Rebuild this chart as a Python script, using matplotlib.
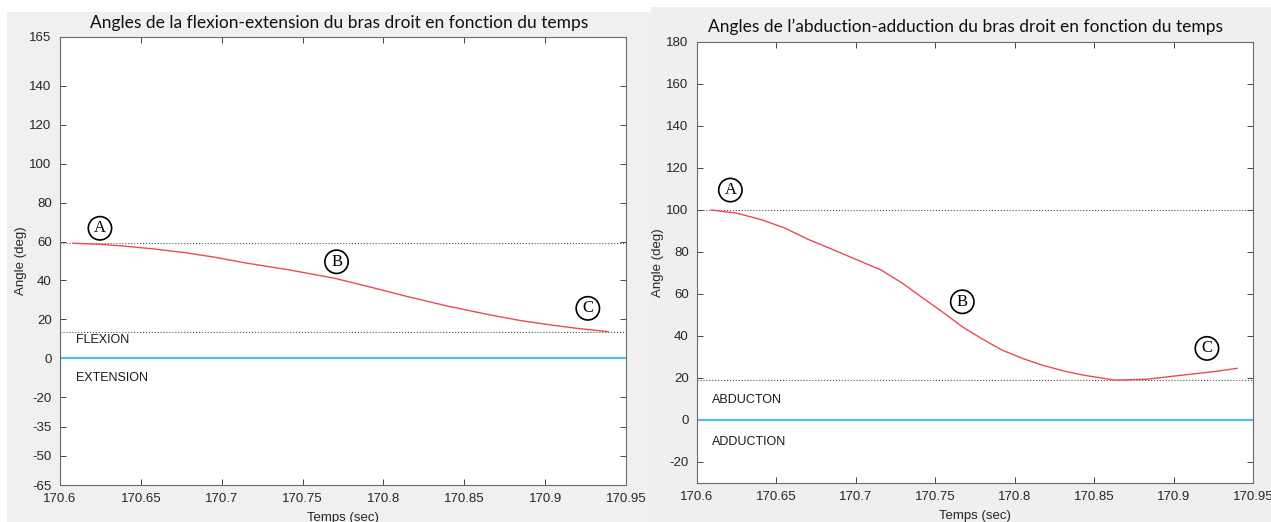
import matplotlib.pyplot as plt
from matplotlib.patches import Rectangle

# flexion-extension (left)
t_flex = [170.608, 170.624, 170.639, 170.658, 170.677, 170.696, 170.714, 170.742, 170.770,
          170.792, 170.815, 170.840, 170.866, 170.885, 170.904, 170.920, 170.939]
ang_flex = [59.1, 58.6, 57.7, 56.2, 54.3, 51.9, 49.1, 45.4, 41.1,
            36.6, 31.7, 26.8, 22.3, 19.4, 17.1, 15.4, 13.7]
yticks_flex = [-65, -50, -35, -20, 0, 20, 40, 60, 80, 100, 120, 140, 165]
marks_flex = {'A': (170.6247, 66.8), 'B': (170.771, 49.6), 'C': (170.9264, 25.7)}

# abduction-adduction (right)
t_abd = [170.609, 170.625, 170.640, 170.655, 170.670, 170.686, 170.700, 170.716, 170.730, 170.741,
         170.755, 170.767, 170.780, 170.792, 170.805, 170.817, 170.830, 170.843, 170.863,
         170.883, 170.906, 170.925, 170.940]
ang_abd = [100, 98.5, 95.5, 91.5, 86, 81, 76.5, 71.4, 64.8, 58.7,
           51.2, 44.4, 38.4, 33.3, 29.3, 26.2, 23.5, 21.4, 19.0,
           19.4, 21.4, 23.0, 24.6]
yticks_abd = [-20, 0, 20, 40, 60, 80, 100, 120, 140, 160, 180]
marks_abd = {'A': (170.621, 109.5), 'B': (170.767, 56.3), 'C': (170.921, 34.1)}

xticks = [170.6, 170.65, 170.7, 170.75, 170.8, 170.85, 170.9, 170.95]
xlabels = ['170.6', '170.65', '170.7', '170.75', '170.8', '170.85', '170.9', '170.95']

plt.rcParams['font.family'] = ['Liberation Sans', 'DejaVu Sans']
plt.rcParams['axes.unicode_minus'] = False

W, H = 1271, 522
fig = plt.figure(figsize=(W / 100, H / 100), dpi=100, facecolor='white')

# grey backgrounds of the two screenshots
fig.add_artist(Rectangle((7 / W, 0), (651 - 7) / W, (H - 12) / H, transform=fig.transFigure,
                         facecolor='#f0f0f0', edgecolor='none', zorder=-10))
fig.add_artist(Rectangle((651 / W, 0), (W - 651) / W, (H - 7) / H, transform=fig.transFigure,
                         facecolor='#efefef', edgecolor='none', zorder=-10))

tick_col = '#262626'


def setup(ax, ylim, yticks, title, title_xy, ylab_x, xlab_y):
    ax.set_xlim(170.6, 170.95)
    ax.set_ylim(*ylim)
    ax.set_xticks(xticks)
    ax.set_xticklabels(xlabels)
    ax.set_yticks(yticks)
    ax.tick_params(direction='in', length=4, width=0.6, colors=tick_col, labelsize=9.5,
                   top=True, right=True, pad=6)
    for s in ax.spines.values():
        s.set_color('#6a6a6a')
        s.set_linewidth(0.8)
    ax.set_ylabel('Angle (deg)', fontsize=9.5, color=tick_col)
    ax.yaxis.set_label_coords(ylab_x, 0.5)
    ax.yaxis.label.set_va('center')
    ax.set_xlabel('Temps (sec)', fontsize=9.5, color=tick_col)
    ax.xaxis.set_label_coords(0.5, xlab_y)
    ax.xaxis.label.set_va('center')
    fig.text(title_xy[0], title_xy[1], title, ha='center', va='center',
             fontsize=12.5, family='Lato', color='#111111')


def circled(ax, marks):
    for letter, (x, y) in marks.items():
        ax.text(x, y, letter, ha='center', va='center', fontsize=12, family='Liberation Serif',
                bbox=dict(boxstyle='circle,pad=0.22', fc='none', ec='black', lw=1.2))


# left chart
ax1 = fig.add_axes([60 / W, (H - 485) / H, 566 / W, 448 / H])
ax1.axhline(ang_flex[0], color='#555555', ls=':', lw=0.8)
ax1.axhline(ang_flex[-1], color='#555555', ls=':', lw=0.8)
ax1.axhline(0, color='#4dbeee', lw=1.6)
ax1.plot(t_flex, ang_flex, color='#ec4a55', lw=1.0)
circled(ax1, marks_flex)
ax1.text(170.6096, 9.4, 'FLEXION', fontsize=9, va='center', color='#1a1a1a')
ax1.text(170.6096, -10.2, 'EXTENSION', fontsize=9, va='center', color='#1a1a1a')
setup(ax1, (-65, 165), yticks_flex,
      'Angles de la flexion-extension du bras droit en fonction du temps',
      (339 / W, 1 - 23 / H), -0.069, -33 / 448)

# right chart
ax2 = fig.add_axes([697 / W, (H - 483) / H, 556 / W, 441 / H])
ax2.axhline(ang_abd[0], color='#555555', ls=':', lw=0.8)
ax2.axhline(min(ang_abd), color='#555555', ls=':', lw=0.8)
ax2.axhline(0, color='#4dbeee', lw=1.6)
ax2.plot(t_abd, ang_abd, color='#ec4a55', lw=1.0)
circled(ax2, marks_abd)
ax2.text(170.6097, 9.5, 'ABDUCTON', fontsize=9, va='center', color='#1a1a1a')
ax2.text(170.6097, -10.3, 'ADDUCTION', fontsize=9, va='center', color='#1a1a1a')
setup(ax2, (-30, 180), yticks_abd,
      'Angles de l\u2019abduction-adduction du bras droit en fonction du temps',
      (966 / W, 1 - 27 / H), -0.070, -33 / 441)

fig.savefig('out.png', dpi=100)
